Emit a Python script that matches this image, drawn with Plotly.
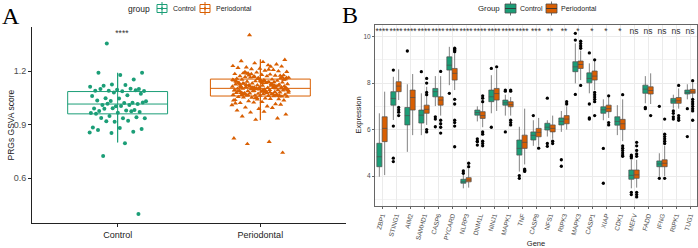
import plotly.graph_objects as go

# ---------------- Panel A data ----------------
groups_a = ["Control", "Periodontal"]
ctrl_scores = [1.355, 1.190, 1.178, 1.190, 1.153, 1.125, 1.112, 1.122, 1.118, 1.100,
               1.095, 1.090, 1.101, 1.089, 1.088, 1.087, 1.099, 1.092, 1.080, 1.060,
               1.065, 1.047, 1.073, 1.046, 1.035, 1.022, 1.032, 1.030, 1.021, 1.009,
               1.015, 1.003, 0.990, 1.010, 1.016, 1.023, 1.004, 0.976, 0.981, 0.991,
               0.965, 0.979, 0.989, 0.970, 0.966, 0.960, 0.975, 0.948, 0.935, 0.936,
               0.937, 0.941, 0.916, 0.884, 0.921, 0.919, 0.875, 0.880, 0.870, 0.860,
               0.852, 0.855, 0.795, 0.723, 0.398]
perio_scores = [
    1.402, 1.263, 1.251, 1.256, 1.238, 1.244, 1.229, 1.233, 1.221, 1.226, 1.214, 1.218,
    1.207, 1.211, 1.196, 1.203, 1.188, 1.199, 1.192, 1.184, 1.181, 1.186, 1.177, 1.179,
    1.172, 1.175, 1.168, 1.163, 1.171, 1.166, 1.159, 1.161, 1.157, 1.153, 1.164, 1.155,
    1.149, 1.152, 1.146, 1.143, 1.148, 1.139, 1.141, 1.136, 1.144, 1.133, 1.138, 1.131,
    1.127, 1.134, 1.129, 1.124, 1.121, 1.126, 1.118, 1.122, 1.115, 1.119, 1.112, 1.116,
    1.109, 1.113, 1.106, 1.111, 1.103, 1.108, 1.101, 1.105, 1.098, 1.104, 1.096, 1.102,
    1.093, 1.099, 1.091, 1.095, 1.088, 1.092, 1.085, 1.089, 1.083, 1.087, 1.079, 1.084,
    1.076, 1.081, 1.073, 1.078, 1.071, 1.075, 1.068, 1.072, 1.066, 1.069, 1.063, 1.067,
    1.061, 1.064, 1.058, 1.062, 1.055, 1.059, 1.051, 1.057, 1.047, 1.053, 1.043, 1.049,
    1.038, 1.044, 1.032, 1.036, 1.027, 1.021, 1.015, 1.024, 1.009, 1.002, 0.996, 1.012,
    0.988, 0.979, 0.994, 0.968, 0.957, 0.972, 0.946, 0.935, 0.927,
    0.823, 0.803, 0.791, 0.742,
    1.147, 1.132, 1.117, 1.107, 1.094, 1.082, 1.074, 1.064, 1.158, 1.142, 1.128, 1.114,
    1.102, 1.091, 1.077, 1.067, 1.169, 1.151, 1.137, 1.123, 1.109, 1.097, 1.086, 1.072,
    1.183, 1.162, 1.145, 1.131, 1.119, 1.104, 1.093, 1.081, 1.065, 1.154, 1.139, 1.125,
    1.111, 1.099, 1.088, 1.076, 1.195, 1.174, 1.156, 1.141, 1.127, 1.114, 1.101, 1.087,
    1.079, 1.062, 1.048, 1.035, 1.208, 1.187, 1.166, 1.149, 1.135, 1.121, 1.107, 1.097,
    1.084, 1.071, 1.059, 1.041, 1.019, 1.225, 1.176, 1.152, 1.133, 1.117, 1.103, 1.089]
# box stats: lower whisker, q1, median, q3, upper whisker
ctrl_box_a = [0.800, 0.960, 1.015, 1.085, 1.190]
perio_box_a = [0.925, 1.060, 1.103, 1.155, 1.265]
sig_a = "****"

# ---------------- Panel B data ----------------
genes = ["ZBP1", "STING1", "AIM2", "SAMHD1", "CASP6", "PYCARD", "NLRP3", "DNM1L",
         "NINJ1", "MAPK1", "TNF", "CASP8", "NFS1", "RIPK3", "MAPK3", "CASP1", "XIAP",
         "CDK1", "MEFV", "FADD", "IFNG", "RIPK1", "TUG1"]
sig_b = ["****", "****", "****", "****", "****", "****", "****", "****", "****", "****",
         "****", "***", "**", "**", "*", "*", "*", "*", "ns", "ns", "ns", "ns", "ns"]
ctrl_lo = [3.97, 6.41, 5.04, 5.76, 7.01, 7.91, 3.47, 6.35, 6.70, 6.60, 4.19, 5.30, 5.70,
           5.90, 7.99, 7.56, 6.40, 5.76, 3.47, 7.13, 3.97, 6.90, 7.30]
ctrl_q1 = [4.40, 7.05, 6.20, 6.28, 7.41, 8.56, 3.69, 6.62, 7.20, 7.05, 4.90, 5.55, 5.98,
           6.20, 8.49, 8.01, 6.70, 6.19, 3.86, 7.56, 4.40, 7.13, 7.53]
ctrl_med = [4.83, 7.34, 6.60, 6.62, 7.63, 8.77, 3.75, 6.73, 7.41, 7.15, 5.19, 5.75, 6.10,
            6.35, 8.70, 8.20, 6.85, 6.35, 4.03, 7.74, 4.52, 7.23, 7.60]
ctrl_q3 = [5.41, 7.63, 6.95, 6.84, 7.77, 9.13, 3.86, 6.84, 7.70, 7.27, 5.55, 5.90, 6.27,
           6.50, 8.92, 8.44, 6.98, 6.55, 4.26, 7.91, 4.65, 7.34, 7.70]
ctrl_hi = [6.70, 8.27, 7.95, 7.56, 8.30, 9.56, 4.19, 7.00, 8.34, 7.50, 6.12, 6.40, 6.40,
           6.80, 9.71, 8.85, 7.30, 7.05, 4.69, 8.30, 4.98, 7.50, 7.95]
perio_lo = [4.04, 7.27, 5.76, 6.20, 6.60, 7.70, 3.50, 6.10, 6.80, 6.60, 4.50, 5.30, 5.60,
            6.00, 8.13, 7.70, 6.50, 5.50, 3.50, 7.10, 4.00, 6.90, 7.35]
perio_q1 = [5.48, 7.63, 6.84, 6.70, 7.05, 8.13, 3.75, 6.48, 7.27, 6.98, 5.19, 5.69, 5.90,
            6.25, 8.63, 8.13, 6.77, 6.00, 3.90, 7.53, 4.40, 7.13, 7.56]
perio_med = [6.05, 7.87, 7.38, 6.87, 7.27, 8.42, 3.83, 6.60, 7.55, 7.07, 5.45, 5.88, 6.05,
             6.45, 8.80, 8.30, 6.90, 6.25, 4.05, 7.68, 4.55, 7.24, 7.62]
perio_q3 = [6.55, 8.06, 7.70, 7.05, 7.41, 8.63, 3.93, 6.77, 7.77, 7.20, 5.76, 6.05, 6.20,
            6.60, 8.95, 8.52, 7.05, 6.44, 4.26, 7.84, 4.70, 7.38, 7.73]
perio_hi = [7.63, 8.59, 8.39, 7.84, 8.30, 9.30, 4.30, 7.30, 8.60, 7.40, 6.90, 6.50, 6.60,
            7.00, 9.40, 8.99, 7.40, 7.30, 4.70, 8.42, 5.30, 7.77, 8.00]
ctrl_out = [[], [8.56, 6.15, 4.77, 4.62], [9.38], [8.49], [6.55, 6.45, 6.12], [7.56],
            [4.22, 4.12], [5.50, 5.47, 5.33, 5.60], [8.63, 6.10], [7.70, 7.65, 5.90],
            [3.90, 4.02], [6.60], [7.35, 5.40, 5.28], [4.70, 4.42], [10.14, 9.85, 7.51],
            [9.30, 7.10, 6.50, 6.45], [5.19, 3.69], [], [4.85, 4.90, 4.78, 3.30, 3.20],
            [6.90, 6.95], [7.00, 3.90], [6.80, 6.70, 6.55, 6.45], [6.90, 5.70]]
perio_out = [[], [6.95, 6.85, 6.75, 6.60], [], [8.20, 8.00, 7.60, 7.50, 6.00, 5.90],
             [8.50, 6.40, 6.25, 6.10, 5.85],
             [9.50, 9.45, 9.40, 9.35, 7.30, 7.10, 6.40, 6.30, 6.15, 5.26],
             [4.55, 4.40], [7.45, 7.35, 7.20, 5.90, 5.80, 5.50, 5.40, 5.30], [8.70],
             [7.70, 7.65, 6.40, 6.30, 6.20], [4.30, 4.20, 4.25], [5.20], [5.50, 5.40],
             [7.20, 7.10], [9.80, 9.70, 9.60, 9.50, 7.90],
             [9.00, 7.60, 7.50, 7.40, 7.30, 7.20, 6.60], [7.45, 6.30, 6.20],
             [7.50, 5.30, 5.20, 5.10, 5.00, 4.90, 4.85],
             [5.45, 5.30, 5.10, 4.95, 4.85, 3.30, 3.20, 3.10], [6.60],
             [6.45, 5.80, 5.70, 5.60, 5.50, 5.40, 3.90], [7.90, 6.60, 6.50, 6.40],
             [8.10, 7.30, 7.20, 7.10, 7.00, 6.90, 6.80, 6.40]]
legend_groups = ["Control", "Periodontal"]

GREEN = "#1B9E77"
ORANGE = "#D95F02"
COLORS = [GREEN, ORANGE]
FONT = "Liberation Sans, Arial, sans-serif"
SERIF = "Liberation Serif, Times New Roman, serif"
W, H = 698, 248


def px(x):
    return x / W


def py(y):
    return 1 - y / H


def jitter(n, spread):
    # deterministic low-discrepancy spread (golden ratio sequence)
    return [((i * 0.6180339887 + 0.31) % 1.0 - 0.5) * 2 * spread for i in range(n)]


fig = go.Figure()

# ---- Panel A ----
for gi, (col, stats, pts, sym, msz) in enumerate([
        (GREEN, ctrl_box_a, ctrl_scores, "circle", 4),
        (ORANGE, perio_box_a, perio_scores, "triangle-up", 4.5)]):
    xc = gi + 1
    fig.add_trace(go.Box(
        x=[xc], lowerfence=[stats[0]], q1=[stats[1]], median=[stats[2]], q3=[stats[3]],
        upperfence=[stats[4]], width=0.7, whiskerwidth=0, boxpoints=False,
        fillcolor="rgba(255,255,255,0)", line=dict(color=col, width=1),
        name=groups_a[gi], showlegend=False, xaxis="x", yaxis="y", hoverinfo="skip"))
    fig.add_trace(go.Scatter(
        x=[xc, xc], y=[stats[0], stats[4]], mode="lines",
        line=dict(color=col, width=1), showlegend=False, xaxis="x", yaxis="y",
        hoverinfo="skip"))
    offs = jitter(len(pts), 0.2)
    fig.add_trace(go.Scatter(
        x=[xc + o for o in offs], y=pts, mode="markers",
        marker=dict(symbol=sym, size=msz, color=col, line=dict(width=0)),
        showlegend=False, xaxis="x", yaxis="y"))

fig.add_trace(go.Scatter(x=[1.03], y=[1.41], mode="text", text=[sig_a],
                         textfont=dict(size=8.5, color="#333333", family=FONT),
                         showlegend=False, xaxis="x", yaxis="y", cliponaxis=False))

# ---- Panel B ----
DODGE = 0.19
idx = list(range(len(genes)))
for gi, (sgn, lo, q1, med, q3, hi, outs) in enumerate([
        (-1, ctrl_lo, ctrl_q1, ctrl_med, ctrl_q3, ctrl_hi, ctrl_out),
        (1, perio_lo, perio_q1, perio_med, perio_q3, perio_hi, perio_out)]):
    xs = [i + sgn * DODGE for i in idx]
    fig.add_trace(go.Box(
        x=xs, lowerfence=lo, q1=q1, median=med, q3=q3, upperfence=hi,
        width=0.36, whiskerwidth=0, boxpoints=False, fillcolor=COLORS[gi],
        line=dict(color="#4d4d4d", width=0.7), name=legend_groups[gi], showlegend=False,
        xaxis="x2", yaxis="y2"))
    ox, oy = [], []
    for i, lst in enumerate(outs):
        for v in lst:
            ox.append(i + sgn * DODGE)
            oy.append(v)
    fig.add_trace(go.Scatter(
        x=ox, y=oy, mode="markers", marker=dict(size=3.3, color="black"),
        showlegend=False, xaxis="x2", yaxis="y2"))

fig.add_trace(go.Scatter(
    x=idx, y=[10.22] * len(idx), mode="text", text=sig_b,
    textfont=dict(size=8.5, color="#333333", family=FONT),
    showlegend=False, xaxis="x2", yaxis="y2", cliponaxis=False))

# ---- manual legends (shapes + text) ----
shapes = []
annotations = []


def txt(s, x, y, size, color="#222222", anchor="left", angle=0):
    annotations.append(dict(text=s, x=px(x), y=py(y), xref="paper", yref="paper",
                            xanchor=anchor, yanchor="middle", showarrow=False,
                            textangle=angle,
                            font=dict(family=FONT, size=size, color=color)))


def seg(x0, y0, x1, y1, color, width=1):
    shapes.append(dict(type="line", xref="paper", yref="paper", x0=px(x0), y0=py(y0),
                       x1=px(x1), y1=py(y1), line=dict(color=color, width=width)))


def rect(x0, y0, x1, y1, line, fill, width=1):
    shapes.append(dict(type="rect", xref="paper", yref="paper", x0=px(x0), y0=py(y0),
                       x1=px(x1), y1=py(y1), line=dict(color=line, width=width),
                       fillcolor=fill))


# legend A
txt("group", 126, 8.5, 8.5)
for (ix, tx), col, lab in zip([(157, 171), (200, 214)], COLORS, legend_groups):
    seg(ix + 5, 2, ix + 5, 15, col)
    rect(ix, 4.5, ix + 10, 12.5, col, "white")
    seg(ix, 8.5, ix + 10, 8.5, col)
    seg(ix + 5, 4.5, ix + 5, 12.5, col)
    shapes.append(dict(type="circle", xref="paper", yref="paper",
                       x0=px(ix + 3.8), y0=py(9.7), x1=px(ix + 6.2), y1=py(7.3),
                       line=dict(width=0), fillcolor=col))
    txt(lab, tx, 8.5, 7)

# legend B
txt("Group", 476, 8.5, 7.8)
for (ix, tx), col, lab in zip([(505, 518), (546, 559)], COLORS, legend_groups):
    seg(ix + 5.5, 1.5, ix + 5.5, 15.5, "#4d4d4d", 0.8)
    rect(ix, 4, ix + 11, 13, "#4d4d4d", col, 0.8)
    seg(ix, 8.5, ix + 11, 8.5, "#333333", 0.9)
    txt(lab, tx, 8.5, 7)

# y-axis titles placed as rotated text
txt("PRGs GSVA score", 10.5, 125, 8.5, anchor="center", angle=-90)
txt("Expression", 358.5, 115, 7.5, anchor="center", angle=-90)

# panel letters
annotations.append(dict(text="A", x=px(0), y=py(1), xref="paper", yref="paper",
                        xanchor="left", yanchor="top", showarrow=False,
                        font=dict(family=SERIF, size=24, color="black")))
annotations.append(dict(text="B", x=px(340), y=py(0), xref="paper", yref="paper",
                        xanchor="left", yanchor="top", showarrow=False,
                        font=dict(family=SERIF, size=24, color="black")))

fig.update_layout(
    width=W, height=H, margin=dict(l=0, r=0, t=0, b=0),
    paper_bgcolor="white", plot_bgcolor="white",
    font=dict(family=FONT, color="black"),
    boxmode="overlay", showlegend=False,
    shapes=shapes, annotations=annotations,
    xaxis=dict(domain=[px(32), px(346)], range=[0.4, 2.6], tickvals=[1, 2],
               ticktext=groups_a, showline=True, linecolor="#222222", linewidth=1,
               ticks="outside", ticklen=3, tickcolor="#222222", showgrid=False,
               zeroline=False, anchor="y", automargin=False,
               tickfont=dict(family=FONT, size=9, color="#222222")),
    yaxis=dict(domain=[py(223), py(27)], range=[0.348, 1.447],
               tickvals=[0.6, 0.9, 1.2], ticktext=["0.6", "0.9", "1.2"],
               showline=True, linecolor="#222222", linewidth=1, ticks="outside",
               ticklen=3, tickcolor="#222222", showgrid=False, zeroline=False,
               anchor="x", automargin=False,
               tickfont=dict(family=FONT, size=9, color="#4d4d4d")),
    xaxis2=dict(domain=[px(375), px(697)], range=[-0.5, len(genes) - 0.5],
                tickvals=idx, ticktext=genes, tickangle=-75,
                showline=True, mirror=True, linecolor="#666666", linewidth=1,
                ticks="outside", ticklen=2, tickcolor="#666666",
                showgrid=True, gridcolor="#ebebeb", gridwidth=0.6, zeroline=False,
                anchor="y2", automargin=False,
                tickfont=dict(family=FONT, size=6.5, color="#4d4d4d"),
                title=dict(text="Gene", font=dict(family=FONT, size=7.5, color="#222222"))),
    yaxis2=dict(domain=[py(206), py(25)], range=[2.71, 10.5],
                tick0=0, dtick=2, showline=True, mirror=True, linecolor="#666666",
                linewidth=1, ticks="outside", ticklen=2, tickcolor="#666666",
                showgrid=True, gridcolor="#ebebeb", gridwidth=0.6, zeroline=False,
                minor=dict(dtick=1, showgrid=True, gridcolor="#f3f3f3", gridwidth=0.4),
                anchor="x2", automargin=False,
                tickfont=dict(family=FONT, size=6.5, color="#4d4d4d")),
)

fig.write_html("out.html", config={"displayModeBar": False},
               post_script="document.body.style.margin='0';document.body.style.padding='0';")
